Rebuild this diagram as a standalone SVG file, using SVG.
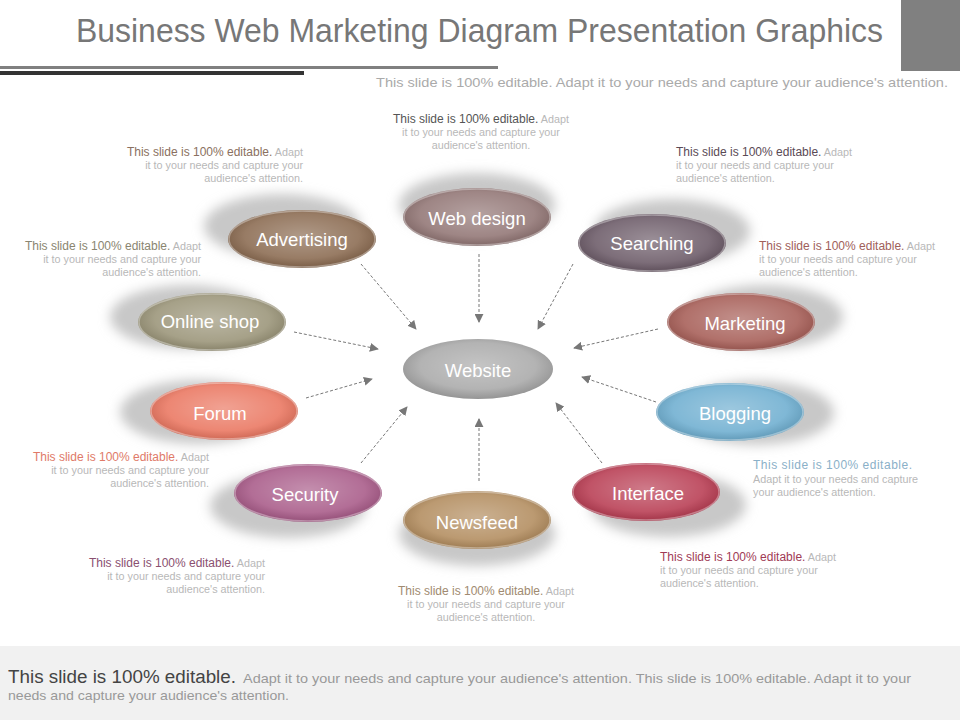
<svg xmlns="http://www.w3.org/2000/svg" width="960" height="720" viewBox="0 0 960 720">
<style>
text{font-family:"Liberation Sans",Arial,sans-serif}
.lbl{fill:#fff;text-anchor:middle;font-size:18.5px}
.cap{font-size:10.8px;fill:#b8b8b8}
.capb{font-size:12px}
.sh{fill:#c8c8c8;filter:url(#blur)}
.rim{fill:none;stroke:#fff;stroke-opacity:0.35;stroke-width:1.5}
.shine{fill:url(#shine)}
.con{stroke:#777;stroke-width:1;stroke-dasharray:3 2;fill:none;marker-end:url(#ah)}
</style>
<defs>
<filter id="blur" x="-30%" y="-60%" width="160%" height="220%"><feGaussianBlur stdDeviation="6"/></filter>
<radialGradient id="shine" cx="0.5" cy="0.45" r="0.55">
<stop offset="0" stop-color="#fff" stop-opacity="0.32"/>
<stop offset="0.7" stop-color="#fff" stop-opacity="0.12"/>
<stop offset="1" stop-color="#000" stop-opacity="0.12"/>
</radialGradient>
<marker id="ah" viewBox="0 0 10 10" refX="9" refY="5" markerWidth="9" markerHeight="9" markerUnits="userSpaceOnUse" orient="auto">
<path d="M0,0 L10,5 L0,10 Z" fill="#777"/>
</marker>
</defs>
<rect width="960" height="720" fill="#fff"/>

<g id="header">
<text x="76" y="42" font-size="34" fill="#777" textLength="807" lengthAdjust="spacingAndGlyphs">Business Web Marketing Diagram Presentation Graphics</text>
<rect x="901" y="0" width="59" height="71" fill="#808080"/>
<rect x="0" y="66" width="498" height="3" fill="#808080"/>
<rect x="0" y="71" width="304" height="4" fill="#333"/>
<text x="376" y="87" font-size="13.5" fill="#aaa" textLength="572" lengthAdjust="spacingAndGlyphs">This slide is 100% editable. Adapt it to your needs and capture your audience's attention.</text>
</g>

<g id="connectors">
<line class="con" x1="479" y1="254" x2="479" y2="322"/>
<line class="con" x1="361" y1="264" x2="416" y2="329"/>
<line class="con" x1="573" y1="264" x2="538" y2="329"/>
<line class="con" x1="294" y1="332" x2="378" y2="349"/>
<line class="con" x1="658" y1="329" x2="574" y2="348"/>
<line class="con" x1="306" y1="398" x2="372" y2="379"/>
<line class="con" x1="656" y1="402" x2="582" y2="377"/>
<line class="con" x1="361" y1="463" x2="407" y2="407"/>
<line class="con" x1="602" y1="463" x2="556" y2="403"/>
<line class="con" x1="479" y1="481" x2="479" y2="419"/>
</g>

<g id="website">
<ellipse cx="478" cy="369" rx="75" ry="30" fill="#a9a9a9"/>
<ellipse class="shine" cx="478" cy="369" rx="75" ry="30"/>
<text class="lbl" x="478" y="377" font-size="21">Website</text>
</g>

<g id="webdesign">
<ellipse class="sh" cx="477" cy="205" rx="78" ry="32"/>
<ellipse cx="477" cy="217" rx="74" ry="29" fill="#917574"/>
<ellipse class="shine" cx="477" cy="217" rx="74" ry="29"/>
<ellipse class="rim" cx="477" cy="217" rx="73" ry="28"/>
<text class="lbl" x="477" y="225" font-size="16">Web design</text>
<text class="cap" x="481" y="123" text-anchor="middle"><tspan class="capb" fill="#555">This slide is 100% editable.</tspan> Adapt</text>
<text class="cap" x="481" y="136" text-anchor="middle">it to your needs and capture your</text>
<text class="cap" x="481" y="149" text-anchor="middle">audience's attention.</text>
</g>

<g id="advertising">
<ellipse class="sh" cx="282" cy="226" rx="78" ry="32"/>
<ellipse cx="302" cy="239" rx="74" ry="29" fill="#8a6a50"/>
<ellipse class="shine" cx="302" cy="239" rx="74" ry="29"/>
<ellipse class="rim" cx="302" cy="239" rx="73" ry="28"/>
<text class="lbl" x="302" y="246">Advertising</text>
<text class="cap" x="303" y="156" text-anchor="end"><tspan class="capb" fill="#8a7060">This slide is 100% editable.</tspan> Adapt</text>
<text class="cap" x="303" y="169" text-anchor="end">it to your needs and capture your</text>
<text class="cap" x="303" y="182" text-anchor="end">audience's attention.</text>
</g>

<g id="searching">
<ellipse class="sh" cx="672" cy="231" rx="78" ry="32"/>
<ellipse cx="652" cy="243" rx="74" ry="29" fill="#6b5a67"/>
<ellipse class="shine" cx="652" cy="243" rx="74" ry="29"/>
<ellipse class="rim" cx="652" cy="243" rx="73" ry="28"/>
<text class="lbl" x="652" y="250">Searching</text>
<text class="cap" x="676" y="156"><tspan class="capb" fill="#5a4a55">This slide is 100% editable.</tspan> Adapt</text>
<text class="cap" x="676" y="169">it to your needs and capture your</text>
<text class="cap" x="676" y="182">audience's attention.</text>
</g>

<g id="onlineshop">
<ellipse class="sh" cx="188" cy="317" rx="78" ry="32"/>
<ellipse cx="212" cy="322" rx="74" ry="29" fill="#9a9478"/>
<ellipse class="shine" cx="212" cy="322" rx="74" ry="29"/>
<ellipse class="rim" cx="212" cy="322" rx="73" ry="28"/>
<text class="lbl" x="210" y="328" font-size="16">Online shop</text>
<text class="cap" x="201" y="250" text-anchor="end"><tspan class="capb" fill="#8a8570">This slide is 100% editable.</tspan> Adapt</text>
<text class="cap" x="201" y="263" text-anchor="end">it to your needs and capture your</text>
<text class="cap" x="201" y="276" text-anchor="end">audience's attention.</text>
</g>

<g id="marketing">
<ellipse class="sh" cx="765" cy="317" rx="78" ry="32"/>
<ellipse cx="741" cy="322" rx="74" ry="29" fill="#a65d56"/>
<ellipse class="shine" cx="741" cy="322" rx="74" ry="29"/>
<ellipse class="rim" cx="741" cy="322" rx="73" ry="28"/>
<text class="lbl" x="745" y="330">Marketing</text>
<text class="cap" x="759" y="250"><tspan class="capb" fill="#a0605a">This slide is 100% editable.</tspan> Adapt</text>
<text class="cap" x="759" y="263">it to your needs and capture your</text>
<text class="cap" x="759" y="276">audience's attention.</text>
</g>

<g id="forum">
<ellipse class="sh" cx="198" cy="412" rx="78" ry="32"/>
<ellipse cx="224" cy="411" rx="74" ry="29" fill="#ea7660"/>
<ellipse class="shine" cx="224" cy="411" rx="74" ry="29"/>
<ellipse class="rim" cx="224" cy="411" rx="73" ry="28"/>
<text class="lbl" x="220" y="420">Forum</text>
<text class="cap" x="209" y="461" text-anchor="end"><tspan class="capb" fill="#e07a68">This slide is 100% editable.</tspan> Adapt</text>
<text class="cap" x="209" y="474" text-anchor="end">it to your needs and capture your</text>
<text class="cap" x="209" y="487" text-anchor="end">audience's attention.</text>
</g>

<g id="blogging">
<ellipse class="sh" cx="756" cy="413" rx="78" ry="32"/>
<ellipse cx="730" cy="412" rx="74" ry="29" fill="#6eaed0"/>
<ellipse class="shine" cx="730" cy="412" rx="74" ry="29"/>
<ellipse class="rim" cx="730" cy="412" rx="73" ry="28"/>
<text class="lbl" x="735" y="420">Blogging</text>
<text x="753" y="469" font-size="12" fill="#8ab0c8" textLength="159" lengthAdjust="spacing">This slide is 100% editable.</text>
<text class="cap" x="753" y="483">Adapt it to your needs and capture</text>
<text class="cap" x="753" y="496">your audience's attention.</text>
</g>

<g id="security">
<ellipse class="sh" cx="288" cy="506" rx="78" ry="32"/>
<ellipse cx="308" cy="493" rx="74" ry="29" fill="#a85a88"/>
<ellipse class="shine" cx="308" cy="493" rx="74" ry="29"/>
<ellipse class="rim" cx="308" cy="493" rx="73" ry="28"/>
<text class="lbl" x="305" y="501">Security</text>
<text class="cap" x="265" y="567" text-anchor="end"><tspan class="capb" fill="#8a5070">This slide is 100% editable.</tspan> Adapt</text>
<text class="cap" x="265" y="580" text-anchor="end">it to your needs and capture your</text>
<text class="cap" x="265" y="593" text-anchor="end">audience's attention.</text>
</g>

<g id="newsfeed">
<ellipse class="sh" cx="477" cy="534" rx="78" ry="32"/>
<ellipse cx="477" cy="520" rx="74" ry="29" fill="#b28c5e"/>
<ellipse class="shine" cx="477" cy="520" rx="74" ry="29"/>
<ellipse class="rim" cx="477" cy="520" rx="73" ry="28"/>
<text class="lbl" x="477" y="529">Newsfeed</text>
<text class="cap" x="486" y="595" text-anchor="middle"><tspan class="capb" fill="#a08a70">This slide is 100% editable.</tspan> Adapt</text>
<text class="cap" x="486" y="608" text-anchor="middle">it to your needs and capture your</text>
<text class="cap" x="486" y="621" text-anchor="middle">audience's attention.</text>
</g>

<g id="interface">
<ellipse class="sh" cx="668" cy="505" rx="78" ry="32"/>
<ellipse cx="646" cy="492" rx="74" ry="29" fill="#b83c52"/>
<ellipse class="shine" cx="646" cy="492" rx="74" ry="29"/>
<ellipse class="rim" cx="646" cy="492" rx="73" ry="28"/>
<text class="lbl" x="648" y="500">Interface</text>
<text class="cap" x="660" y="561"><tspan class="capb" fill="#a03a55">This slide is 100% editable.</tspan> Adapt</text>
<text class="cap" x="660" y="574">it to your needs and capture your</text>
<text class="cap" x="660" y="587">audience's attention.</text>
</g>

<g id="footer">
<rect x="0" y="646" width="960" height="74" fill="#f1f1f1"/>
<text x="8" y="683" font-size="18" fill="#444" textLength="228" lengthAdjust="spacingAndGlyphs">This slide is 100% editable.</text>
<text x="243" y="683" font-size="13" fill="#999" textLength="668" lengthAdjust="spacingAndGlyphs">Adapt it to your needs and capture your audience's attention. This slide is 100% editable. Adapt it to your</text>
<text x="8" y="700" font-size="13" fill="#999" textLength="281" lengthAdjust="spacingAndGlyphs">needs and capture your audience's attention.</text>
</g>
</svg>
